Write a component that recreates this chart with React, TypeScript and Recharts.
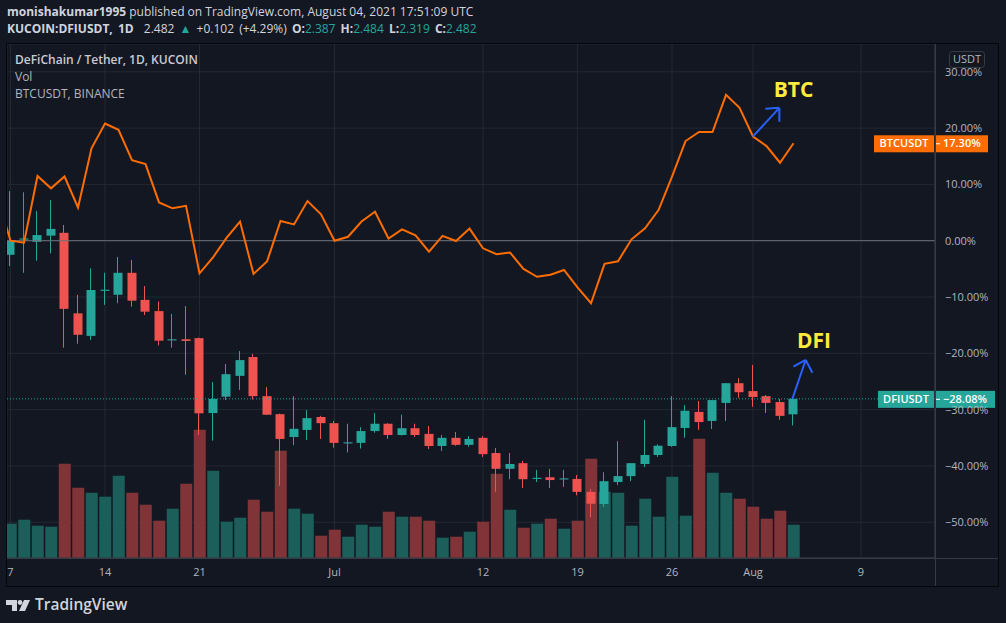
import React from 'react';
import {
  ComposedChart,
  Bar,
  Line,
  XAxis,
  YAxis,
  CartesianGrid,
  ReferenceLine,
  ReferenceDot,
  Cell,
} from 'recharts';

const GREEN = '#26a69a';
const RED = '#ef5350';
const ORANGE = '#ff6d00';
const TEXT = '#b2b5be';
const FONT = '"Open Sans", sans-serif';
const MINUS = '\u2212';

// DFI/USDT (KuCoin) daily candles, Jun 7 - Aug 4 2021, in % vs the first close
const opens = [
  -2.5, 0.2, -0.2, 0.9, 1.4, -12.9, -16.9, -8.9, -9.6, -5.7,
  -10.5, -12.5, -17.7, -17.5, -17.3, -30.6, -27.7, -24.0, -20.65, -27.6,
  -30.8, -34.85, -33.6, -31.3, -32.4, -36.0, -35.9, -33.8, -32.5, -34.5,
  -33.3, -34.3, -36.45, -35.0, -36.25, -35.0, -37.7, -40.5, -39.5, -42.3,
  -42.0, -42.4, -42.3, -44.6, -46.75, -42.85, -41.8, -39.65, -38.05, -36.45,
  -33.25, -30.4, -32.0, -28.8, -25.3, -26.7, -27.6, -28.65, -30.83,
];
const highs = [
  8.8, 8.6, 5.3, 7.2, 2.8, -9.6, -4.9, -5.7, -2.9, -3.4,
  -8.05, -10.8, -13.0, -11.6, -17.2, -25.1, -21.9, -19.6, -20.1, -26.0,
  -30.7, -27.6, -30.05, -31.1, -32.0, -32.5, -33.1, -30.6, -32.4, -30.9,
  -32.5, -32.9, -34.5, -33.95, -34.7, -34.7, -36.8, -37.7, -39.1, -40.7,
  -40.5, -40.7, -41.6, -44.1, -41.1, -35.6, -39.5, -31.8, -36.15, -27.6,
  -29.2, -28.45, -28.3, -25.3, -24.4, -22.05, -27.4, -28.1, -28.02,
];
const lows = [
  -4.5, -5.7, -3.55, -2.25, -19.0, -18.3, -17.6, -11.4, -11.1, -11.7,
  -13.2, -18.6, -19.0, -23.8, -34.5, -35.5, -28.3, -26.5, -28.2, -30.95,
  -43.5, -36.3, -35.4, -35.2, -36.75, -37.6, -36.9, -34.1, -35.2, -34.6,
  -34.85, -37.0, -37.35, -36.4, -36.6, -38.4, -44.6, -42.35, -43.9, -42.85,
  -43.9, -43.7, -45.2, -49.1, -47.3, -43.4, -42.7, -40.2, -38.4, -36.6,
  -35.0, -33.6, -33.45, -32.0, -27.9, -29.5, -30.6, -31.8, -32.8,
];
const closes = [
  0, 0.4, 1.0, 2.1, -12.1, -16.7, -8.75, -8.7, -5.7, -10.65,
  -12.6, -17.75, -17.5, -17.8, -30.65, -28.1, -23.7, -21.2, -27.6, -30.9,
  -35.2, -33.4, -31.5, -32.4, -35.9, -35.8, -33.8, -32.5, -34.5, -33.3,
  -34.5, -36.45, -35.0, -36.25, -35.2, -37.9, -40.5, -39.65, -42.35, -42.1,
  -42.5, -42.2, -44.6, -46.7, -42.7, -41.8, -39.5, -38.05, -36.4, -33.1,
  -30.2, -32.2, -28.3, -25.3, -26.9, -27.75, -28.8, -31.1, -28.08,
];
// volume, thousands of DFI
const volumes = [
  343, 383, 323, 313, 943, 703, 653, 613, 823, 653,
  533, 373, 493, 743, 1283, 873, 363, 403, 583, 463,
  1073, 493, 443, 223, 283, 213, 333, 313, 463, 413,
  413, 373, 203, 213, 263, 363, 843, 483, 303, 343,
  393, 293, 373, 993, 663, 653, 323, 593, 413, 813,
  423, 1193, 853, 653, 593, 513, 393, 473, 333,
];
// BTCUSDT (Binance) compare line in %, Jun 6 - Aug 4
const btcPct = [
  8.0, 0, -0.35, 11.5, 9.3, 11.4, 5.9, 16.4, 20.8, 19.7,
  14.3, 13.6, 6.8, 5.75, 6.2, -5.8, -2.95, 0.5, 3.4, -5.9,
  -3.7, 3.5, 2.9, 7.05, 4.7, 0.0, 0.7, 3.4, 5.15, 0.4,
  2.0, 0.95, -1.95, 0.85, -0.05, 2.15, -1.35, -2.4, -2.1, -5.0,
  -6.4, -6.05, -5.2, -8.3, -11.1, -4.1, -3.65, 0.25, 2.2, 5.45,
  11.4, 17.7, 19.3, 19.3, 25.9, 23.6, 18.5, 16.8, 13.85, 17.3,
];

const tickDays = [0, 7, 14, 24, 35, 42, 49, 55, 63];
const tickLabels = ['7', '14', '21', 'Jul', '12', '19', '26', 'Aug', '9'];
const pctTicks = [-50, -40, -30, -20, -10, 0, 10, 20, 30];

const candles = opens.map((open, i) => ({
  day: i,
  open,
  high: highs[i],
  low: lows[i],
  close: closes[i],
  vol: volumes[i],
}));
const btcLine = btcPct.map((btc, k) => ({ day: k - 1, btc }));

const fmtPct = (v: number) => `${v < 0 ? MINUS : ''}${Math.abs(v).toFixed(2)}%`;

const Candle = (props: any) => {
  const { x, y, width, height, payload } = props;
  if (!payload || height == null) return null;
  const { open, close, high, low } = payload;
  const color = close >= open ? GREEN : RED;
  const toY = (v: number) => y + ((high - v) / (high - low)) * height;
  const cx = Math.round(x + width / 2) - 0.5;
  const top = toY(Math.max(open, close));
  const bot = toY(Math.min(open, close));
  return (
    <g>
      <line x1={cx} x2={cx} y1={y} y2={y + height} stroke={color} strokeWidth={1} />
      <rect x={cx - 4} y={top} width={9} height={Math.max(1, bot - top)} fill={color} />
    </g>
  );
};

const PriceTag = (props: any) => {
  const { viewBox, name, value, color, nameW, valueW } = props;
  const right = viewBox.x + viewBox.width;
  const y = viewBox.y;
  return (
    <g fontFamily={FONT} fontSize={11} fontWeight={600}>
      <rect x={right - nameW} y={y - 8} width={nameW - 1} height={17} fill={color} />
      <text x={right - 1 - (nameW - 1) / 2} y={y + 4} textAnchor="middle" fill="#fff">
        {name}
      </text>
      <rect x={right + 1} y={y - 8} width={valueW} height={17} fill={color} />
      <line x1={right + 1} x2={right + 5} y1={y + 0.5} y2={y + 0.5} stroke="#fff" />
      <text x={right + 8} y={y + 4} fill="#fff">
        {value}
      </text>
    </g>
  );
};

const Note = (text: string) => (p: any) => (
  <text
    x={p.cx}
    y={p.cy}
    dy="0.35em"
    textAnchor="middle"
    fill="#ffeb3b"
    fontFamily={FONT}
    fontSize={21}
    fontWeight={700}
  >
    {text}
  </text>
);

const arrows = [
  // BTC
  [{ x: 54.98, y: 18.47 }, { x: 56.95, y: 23.6 }],
  [{ x: 55.91, y: 23.44 }, { x: 56.95, y: 23.6 }],
  [{ x: 56.95, y: 21.13 }, { x: 56.95, y: 23.6 }],
  // DFI
  [{ x: 57.91, y: -28.11 }, { x: 58.9, y: -21.18 }],
  [{ x: 57.99, y: -22.37 }, { x: 58.9, y: -21.18 }],
  [{ x: 59.4, y: -23.44 }, { x: 58.9, y: -21.18 }],
];

export default function App() {
  const lastClose = closes[closes.length - 1];
  const lastBtc = btcPct[btcPct.length - 1];
  return (
    <div
      style={{
        position: 'absolute',
        left: 0,
        top: 0,
        width: 1006,
        height: 623,
        background: '#131722',
        fontFamily: FONT,
        color: '#d1d4dc',
        overflow: 'hidden',
      }}
    >
      <div style={{ position: 'absolute', left: 7, top: 3, fontSize: 12, lineHeight: '17px', whiteSpace: 'nowrap' }}>
        <b>monishakumar1995</b> published on TradingView.com, August 04, 2021 17:51:09 UTC
      </div>
      <div
        style={{
          position: 'absolute',
          left: 7,
          top: 20,
          fontSize: 12,
          lineHeight: '17px',
          whiteSpace: 'nowrap',
          wordSpacing: 2,
        }}
      >
        <b>KUCOIN:DFIUSDT, 1D</b>&nbsp; 2.482 <span style={{ color: GREEN }}>▲</span> +0.102 (+4.29%){' '}
        <b>O:</b><span style={{ color: GREEN }}>2.387</span> <b>H:</b><span style={{ color: GREEN }}>2.484</span>{' '}
        <b>L:</b><span style={{ color: GREEN }}>2.319</span> <b>C:</b><span style={{ color: GREEN }}>2.482</span>
      </div>

      <ComposedChart
        width={1006}
        height={623}
        data={candles}
        margin={{ top: 44, right: 8, bottom: 37, left: 7 }}
        style={{ position: 'absolute', left: 0, top: 0 }}
      >
        <CartesianGrid stroke="#242833" xAxisId="x" yAxisId="pct" />
        <XAxis
          xAxisId="x"
          dataKey="day"
          type="number"
          domain={[-0.26, 68.48]}
          allowDataOverflow
          ticks={tickDays}
          tickFormatter={(d: number) => tickLabels[tickDays.indexOf(d)]}
          height={28}
          tickLine={false}
          tickMargin={4}
          axisLine={{ stroke: '#363a45' }}
          tick={{ fill: TEXT, fontSize: 11, fontFamily: FONT }}
          interval={0}
        />
        <XAxis xAxisId="x2" dataKey="day" type="number" domain={[-0.26, 68.48]} allowDataOverflow hide />
        <YAxis
          yAxisId="pct"
          orientation="right"
          width={63}
          type="number"
          domain={[-56.34, 34.93]}
          allowDataOverflow
          ticks={pctTicks}
          interval={0}
          tickFormatter={fmtPct}
          tickLine={false}
          tickMargin={4}
          axisLine={{ stroke: '#363a45' }}
          tick={{ fill: TEXT, fontSize: 11, fontFamily: FONT, textAnchor: 'start' }}
        />
        <YAxis yAxisId="vol" type="number" domain={[0, 5140]} allowDataOverflow hide />

        <ReferenceLine xAxisId="x" yAxisId="pct" y={0} stroke="#6f727c" />

        <Bar xAxisId="x2" yAxisId="vol" dataKey="vol" barSize={12} isAnimationActive={false}>
          {candles.map((c, i) => (
            <Cell key={`v-${i}`} fill={c.close >= c.open ? '#1b5e5a' : '#803437'} />
          ))}
        </Bar>
        <Bar
          xAxisId="x"
          yAxisId="pct"
          dataKey={(d: any) => [d.low, d.high]}
          barSize={9}
          shape={<Candle />}
          isAnimationActive={false}
        />
        <Line
          xAxisId="x"
          yAxisId="pct"
          data={btcLine}
          dataKey="btc"
          type="linear"
          stroke={ORANGE}
          strokeWidth={2}
          dot={false}
          activeDot={false}
          isAnimationActive={false}
        />

        <ReferenceLine
          xAxisId="x"
          yAxisId="pct"
          y={lastClose}
          stroke={GREEN}
          strokeDasharray="1 2"
          label={<PriceTag name="DFIUSDT" value={fmtPct(lastClose)} color={GREEN} nameW={57} valueW={59} />}
        />
        <ReferenceLine
          xAxisId="x"
          yAxisId="pct"
          y={lastBtc}
          stroke="none"
          label={<PriceTag name="BTCUSDT" value={fmtPct(lastBtc)} color={ORANGE} nameW={61} valueW={52} />}
        />

        {arrows.map((seg, i) => (
          <ReferenceLine
            key={`a-${i}`}
            xAxisId="x"
            yAxisId="pct"
            segment={seg}
            stroke="#2962ff"
            strokeWidth={2}
          />
        ))}
        <ReferenceDot xAxisId="x" yAxisId="pct" x={58.0} y={26.76} r={0} shape={Note('BTC')} />
        <ReferenceDot xAxisId="x" yAxisId="pct" x={59.52} y={-17.81} r={0} shape={Note('DFI')} />
      </ComposedChart>

      <svg width={1006} height={623} style={{ position: 'absolute', left: 0, top: 0, pointerEvents: 'none' }}>
        <line x1={935.5} x2={935.5} y1={44} y2={586} stroke="#363a45" />
        <line x1={7} x2={998} y1={558.5} y2={558.5} stroke="#363a45" />
        <rect x={6.5} y={43.5} width={992} height={543} fill="none" stroke="#05060a" />
        <rect x={949.5} y={51.5} width={35} height={16} rx={3} fill="#131722" stroke="#363a45" />
        <text x={967} y={63} textAnchor="middle" fill={TEXT} fontSize={11} fontFamily={FONT}>
          USDT
        </text>
        <g fill="#d1d4dc">
          <path d="M6 600 h11 v11 h-5 v-6 h-6 z" />
          <circle cx={20} cy={602.5} r={2.4} />
          <path d="M24 600 h6 l-5 11 h-6 z" />
        </g>
      </svg>

      <div style={{ position: 'absolute', left: 15, top: 51, fontSize: 12, lineHeight: '17px', color: TEXT, whiteSpace: 'nowrap' }}>
        <div style={{ fontWeight: 600, color: '#c8cbd3' }}>DeFiChain / Tether, 1D, KUCOIN</div>
        <div>Vol</div>
        <div>BTCUSDT, BINANCE</div>
      </div>
      <div style={{ position: 'absolute', left: 35, top: 594, fontSize: 15.5, fontWeight: 600, color: '#d1d4dc', lineHeight: '20px' }}>
        TradingView
      </div>
    </div>
  );
}
